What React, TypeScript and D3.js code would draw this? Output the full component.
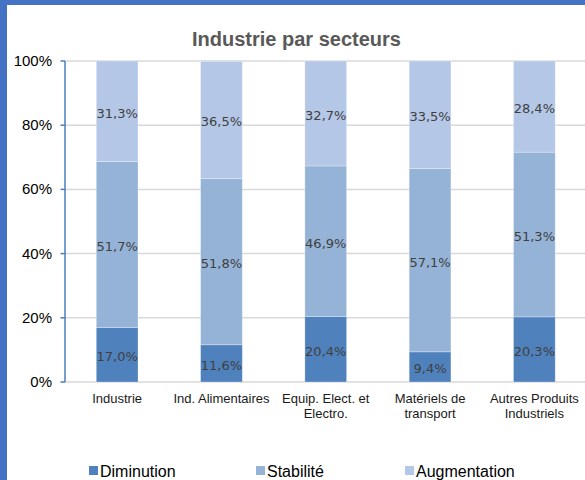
import React from "react";
import * as d3 from "d3";

const categories: string[][] = [
  ["Industrie"],
  ["Ind. Alimentaires"],
  ["Equip. Elect. et", "Electro."],
  ["Matériels de", "transport"],
  ["Autres Produits", "Industriels"],
];
const seriesNames = ["Diminution", "Stabilité", "Augmentation"];
const diminution = [17.0, 11.6, 20.4, 9.4, 20.3];
const stabilite = [51.7, 51.8, 46.9, 57.1, 51.3];
const augmentation = [31.3, 36.5, 32.7, 33.5, 28.4];
const yTicks = [0, 20, 40, 60, 80, 100];
const colors = ["#4F81BD", "#95B3D7", "#B4C7E7"];

const W = 585;
const H = 480;

export default function App() {
  const left = 65;
  const right = 586.5;
  const top = 61;
  const bottom = 382;
  const x = d3
    .scaleBand<number>()
    .domain(d3.range(categories.length))
    .range([left, right])
    .paddingInner(0.6)
    .paddingOuter(0.3);
  const y = d3.scaleLinear().domain([0, 100]).range([bottom, top]);
  const series = [diminution, stabilite, augmentation];
  const rows = categories.map((_, i) => ({
    i,
    d: diminution[i],
    s: stabilite[i],
    a: augmentation[i],
  }));
  const stack = d3.stack<any>().keys(["d", "s", "a"])(rows);
  const fmt = (v: number) => v.toFixed(1).replace(".", ",") + "%";

  const legendX = [89, 256, 405];

  return (
    <svg
      width={W}
      height={H}
      style={{ position: "absolute", left: 0, top: 0, display: "block" }}
      fontFamily="'Liberation Sans', Arial, sans-serif"
    >
      <rect x={0} y={0} width={W} height={H} fill="#ffffff" />
      <rect x={0} y={0} width={W} height={5} fill="#4472C4" />
      <rect x={0} y={0} width={7} height={H} fill="#4472C4" />
      <text
        x={296.5}
        y={46}
        textAnchor="middle"
        fontSize={20}
        fontWeight="bold"
        fill="#595959"
      >
        Industrie par secteurs
      </text>
      {yTicks.map((t) => (
        <g key={t}>
          <line
            x1={left}
            x2={W}
            y1={y(t)}
            y2={y(t)}
            stroke="#d9d9d9"
            strokeWidth={1.5}
          />
          <line
            x1={left - 4.5}
            x2={left}
            y1={y(t)}
            y2={y(t)}
            stroke="#4a7ebb"
            strokeWidth={1.5}
          />
          <text
            x={52}
            y={y(t) + 5}
            textAnchor="end"
            fontSize={15}
            fill="#000"
          >
            {t}%
          </text>
        </g>
      ))}
      {stack.map((layer, si) => (
        <g key={si}>
          {layer.map((seg: any, i: number) => (
            <rect
              key={i}
              x={x(i)}
              y={y(seg[1])}
              width={x.bandwidth()}
              height={y(seg[0]) - y(seg[1])}
              fill={colors[si]}
              stroke="#ffffff"
              strokeOpacity={0.35}
              strokeWidth={0.8}
            />
          ))}
        </g>
      ))}
      {stack.map((layer, si) => (
        <g key={"l" + si}>
          {layer.map((seg: any, i: number) => (
            <text
              key={i}
              x={(x(i) as number) + x.bandwidth() / 2}
              y={(y(seg[0]) + y(seg[1])) / 2 + 6.5}
              textAnchor="middle"
              fontSize={13}
              fontFamily="'DejaVu Sans', sans-serif"
              fill="#404040"
            >
              {fmt(series[si][i])}
            </text>
          ))}
        </g>
      ))}
      <line
        x1={left}
        x2={left}
        y1={top}
        y2={bottom}
        stroke="#4a7ebb"
        strokeWidth={1.5}
      />
      {categories.map((lines, i) => (
        <text
          key={i}
          x={(x(i) as number) + x.bandwidth() / 2}
          y={403}
          textAnchor="middle"
          fontSize={13}
          fill="#1a1a1a"
        >
          {lines.map((l, k) => (
            <tspan
              key={k}
              x={(x(i) as number) + x.bandwidth() / 2}
              dy={k === 0 ? 0 : 15}
            >
              {l}
            </tspan>
          ))}
        </text>
      ))}
      {seriesNames.map((n, i) => (
        <g key={n}>
          <rect
            x={legendX[i]}
            y={466}
            width={9}
            height={9}
            fill={colors[i]}
          />
          <text x={legendX[i] + 11} y={477} fontSize={16} fill="#000">
            {n}
          </text>
        </g>
      ))}
    </svg>
  );
}
